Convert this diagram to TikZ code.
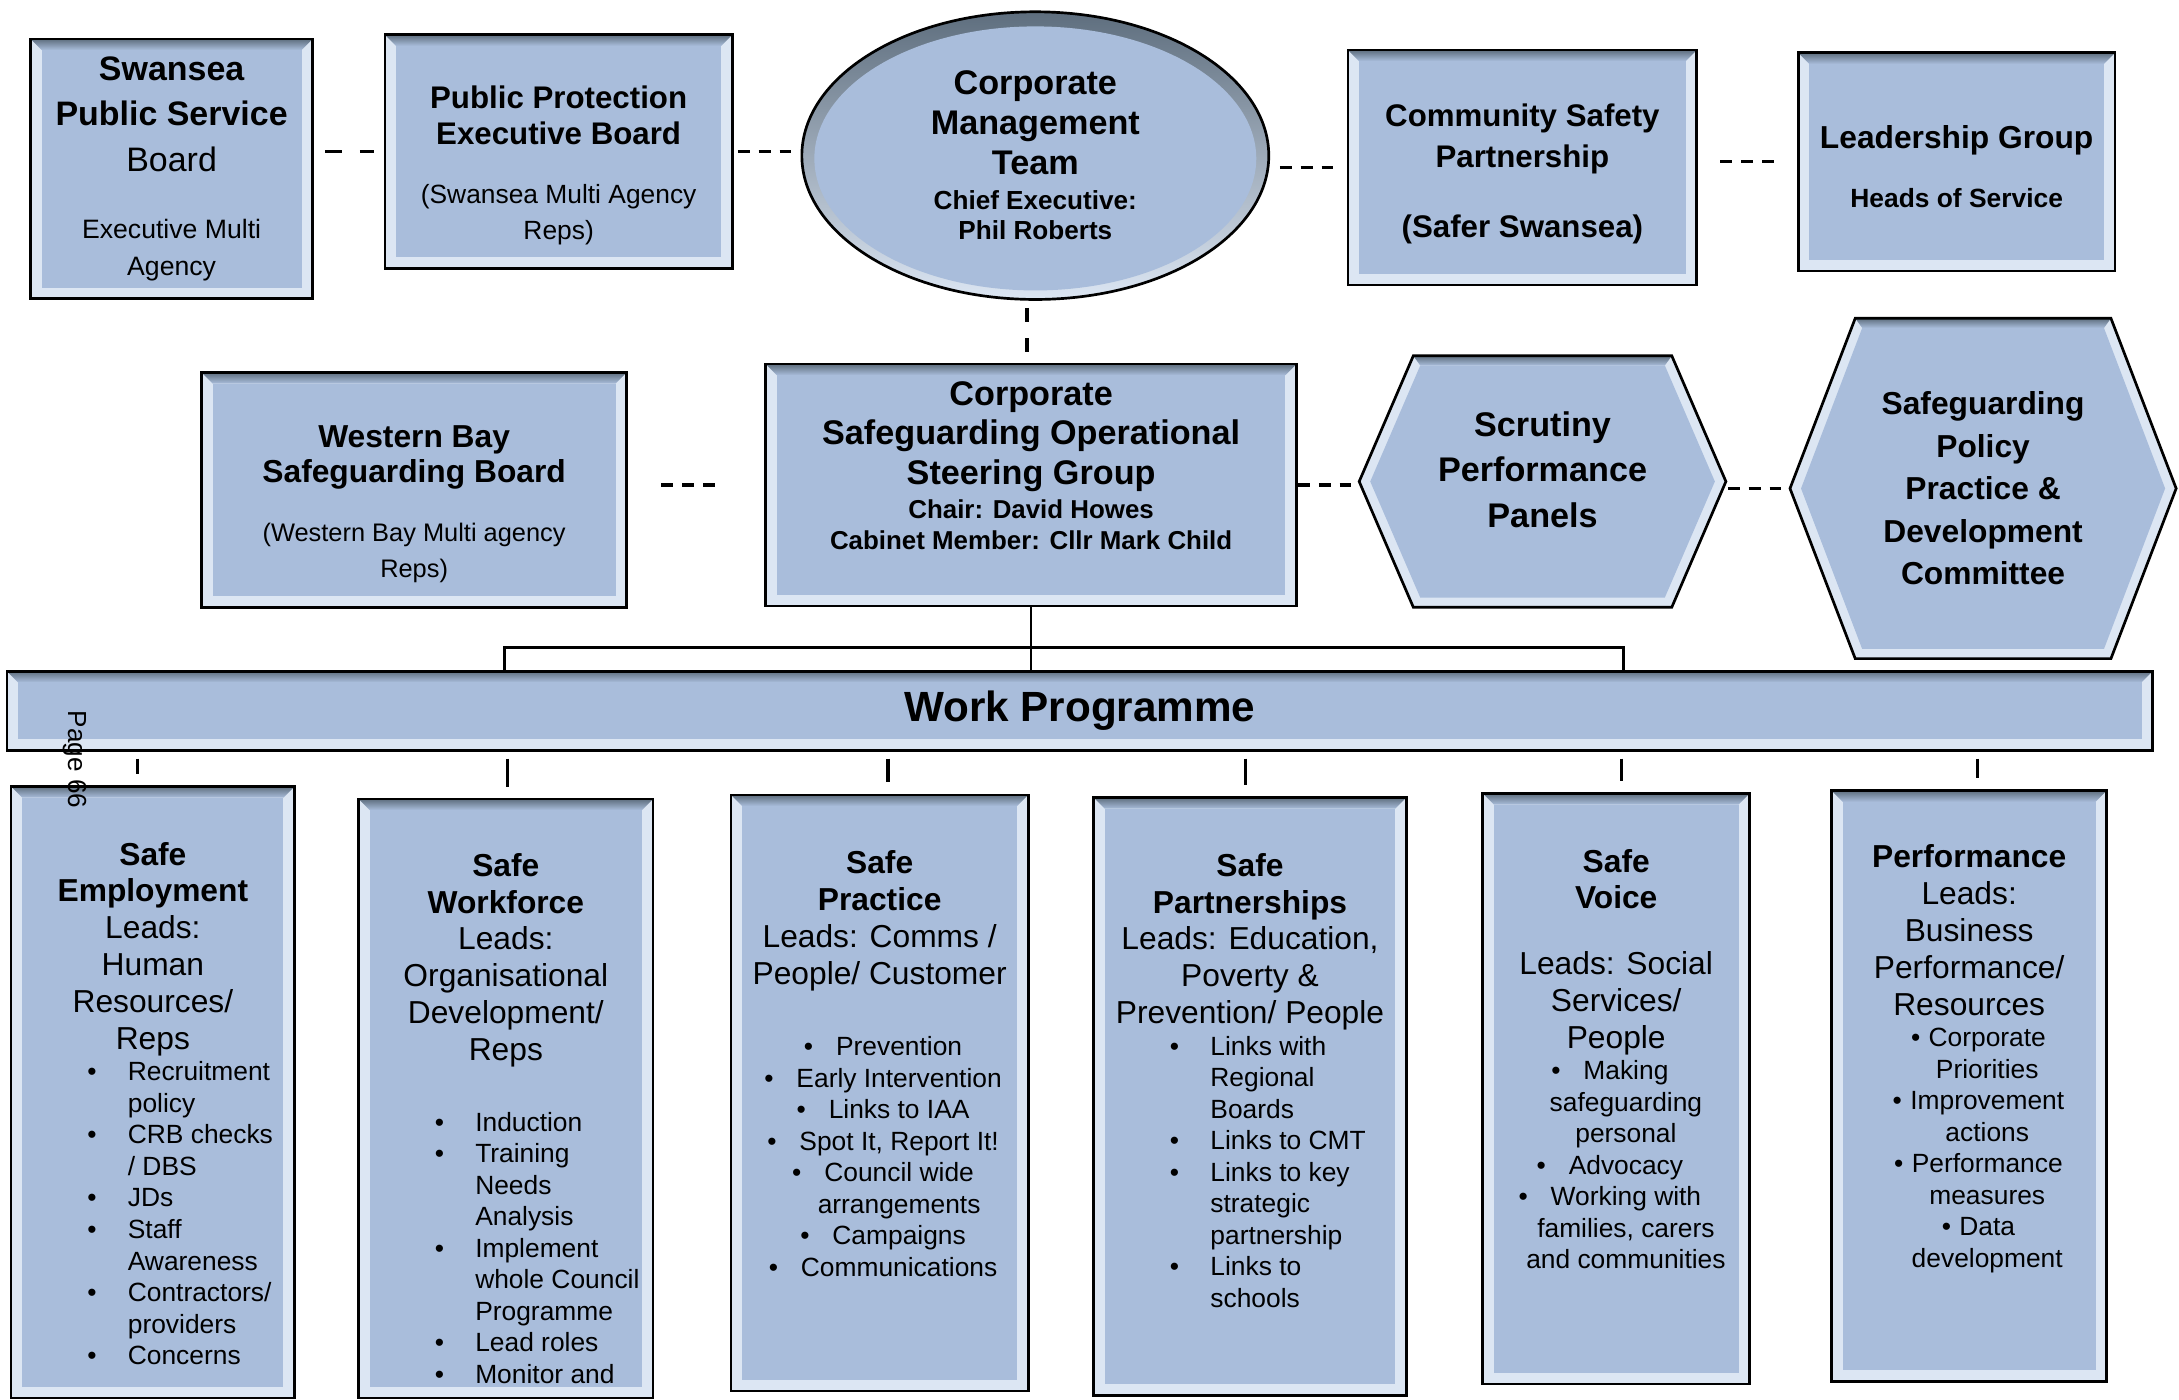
\documentclass[tikz,border=0pt]{standalone}
\usepackage{fontspec}
\setmainfont{Liberation Sans}
\usepackage{enumitem}
\usetikzlibrary{shapes.geometric}

\definecolor{boxfill}{HTML}{A9BDDB}
\definecolor{bevlight}{HTML}{DCE6F3}
\definecolor{bevdark}{HTML}{5E6E7E}

\newcommand{\bevw}{0.16cm}
\newcommand{\wphead}{\fontsize{13}{15.1}\selectfont}
\newcommand{\wpsmall}{\fontsize{10.8}{12.9}\selectfont}
\newcommand{\wpbullet}[1][0.33cm]{\leavevmode\llap{\textbullet\hspace{#1}}}
\setlist[itemize]{nosep, leftmargin=1.68cm, labelsep=0.45cm, label=\textbullet, before=\raggedright}

\begin{document}
\begin{tikzpicture}[
    bevel/.style={draw=black, line width=1.1pt, fill=bevlight, inner sep=0pt,
      path picture={
        \path (path picture bounding box.south west) coordinate (bSW)
              (path picture bounding box.north west) coordinate (bNW)
              (path picture bounding box.north east) coordinate (bNE);
        \shade[top color=bevdark, bottom color=boxfill]
          (bNW) -- (bNE) -- ([shift={(-\bevw,-\bevw)}]bNE) -- ([shift={(\bevw,-\bevw)}]bNW) -- cycle;
        \fill[boxfill] ([shift={(\bevw,\bevw)}]bSW) rectangle ([shift={(-\bevw,-\bevw)}]bNE);
      }},
    hexa/.style={fill=white, inner sep=0pt,
      path picture={
        \path (path picture bounding box.west) coordinate (hW)
              (path picture bounding box.east) coordinate (hE)
              (path picture bounding box.north west) coordinate (hNW)
              (path picture bounding box.north east) coordinate (hNE)
              (path picture bounding box.south west) coordinate (hSW)
              (path picture bounding box.south east) coordinate (hSE);
        \fill[bevlight] ([xshift=0.6pt]hW) -- ([shift={(#1,-0.6pt)}]hNW) -- ([shift={(-#1,-0.6pt)}]hNE)
          -- ([xshift=-0.6pt]hE) -- ([shift={(-#1,0.6pt)}]hSE) -- ([shift={(#1,0.6pt)}]hSW) -- cycle;
        \shade[top color=bevdark, bottom color=boxfill] ([shift={(#1,-0.6pt)}]hNW) -- ([shift={(-#1,-0.6pt)}]hNE)
          -- ([shift={(-#1-0.1cm,-\bevw)}]hNE) -- ([shift={(#1+0.1cm,-\bevw)}]hNW) -- cycle;
        \fill[boxfill] ([xshift=0.18cm]hW) -- ([shift={(#1+0.1cm,-\bevw)}]hNW) -- ([shift={(-#1-0.1cm,-\bevw)}]hNE)
          -- ([xshift=-0.18cm]hE) -- ([shift={(-#1-0.1cm,\bevw)}]hSE) -- ([shift={(#1+0.1cm,\bevw)}]hSW) -- cycle;
        \draw[line width=1.1pt] ([xshift=0.6pt]hW) -- ([shift={(#1,-0.6pt)}]hNW) -- ([shift={(-#1,-0.6pt)}]hNE)
          -- ([xshift=-0.6pt]hE) -- ([shift={(-#1,0.6pt)}]hSE) -- ([shift={(#1,0.6pt)}]hSW) -- cycle;
      }},
    oval/.style={ellipse, draw=black, line width=1.1pt, fill=bevlight, inner sep=0pt,
      path picture={
        \shade[top color=bevdark, bottom color=bevlight]
          (path picture bounding box.south west) rectangle (path picture bounding box.north east);
        \fill[boxfill] ([yshift=-0.04cm]path picture bounding box.center) ellipse [x radius=3.18cm, y radius=1.9cm];
      }},
    link/.style={line width=1.3pt, dash pattern=on 0.17cm off 0.13cm},
    wire/.style={line width=1.1pt},
    stub/.style={line width=1.3pt, shorten <=0.1cm, shorten >=0.16cm}
]
\useasboundingbox (0,0) rectangle (31.36, 20.14);

% Top row
\node[bevel, minimum width=4.06cm, minimum height=3.74cm] (psb) at (2.47, 17.71) {\parbox{3.9cm}{\centering
    \fontsize{13.9}{18.7}\selectfont\bfseries Swansea\\ Public Service\\ \mdseries Board\par
    \vspace{0.42cm}\fontsize{10.9}{15.3}\selectfont Executive Multi\\ Agency}};

\node[bevel, minimum width=5cm, minimum height=3.36cm] (ppeb) at (8.04, 17.96) {\parbox{4.8cm}{\centering
    \vspace*{0.4cm}
    \fontsize{12.8}{14.7}\selectfont\bfseries Public Protection\\ Executive Board\par
    \vspace{0.34cm}\fontsize{10.8}{14.7}\selectfont\mdseries (Swansea Multi Agency\\ Reps)}};

\node[oval, minimum width=6.72cm, minimum height=4.14cm] (cmt) at (14.9, 17.9) {\parbox{3.6cm}{\centering
    \fontsize{14}{16.2}\selectfont\bfseries Corporate\\ Management\\ Team\par
    \vspace{2pt}\fontsize{10.7}{12.5}\selectfont Chief Executive:\\ Phil Roberts}};

\node[bevel, minimum width=5.02cm, minimum height=3.38cm] (csp) at (21.91, 17.73) {\parbox{4.8cm}{\centering
    \vspace*{0.18cm}
    \fontsize{12.8}{17}\selectfont\bfseries Community Safety\\ Partnership\par
    \vspace{0.4cm}(Safer Swansea)}};

\node[bevel, minimum width=4.56cm, minimum height=3.14cm] (lg) at (28.16, 17.81) {\parbox{4.4cm}{\centering
    \vspace*{0.14cm}
    \fontsize{13}{15.3}\selectfont\bfseries Leadership Group\par
    \vspace{0.32cm}\fontsize{10.8}{15.3}\selectfont Heads of Service}};

% Middle row
\node[bevel, minimum width=6.12cm, minimum height=3.38cm] (wbsb) at (5.96, 13.09) {\parbox{5.9cm}{\centering
    \vspace*{0.4cm}
    \fontsize{13}{14.7}\selectfont\bfseries Western Bay\\ Safeguarding Board\par
    \vspace{0.32cm}\fontsize{10.4}{14.7}\selectfont\mdseries (Western Bay Multi agency\\ Reps)}};

\node[bevel, minimum width=7.64cm, minimum height=3.48cm] (csosg) at (14.84, 13.16) {\parbox{7.4cm}{\centering
    \fontsize{14}{16.2}\selectfont\bfseries Corporate\\ Safeguarding Operational\\ Steering Group\par
    \vspace{1.7pt}\fontsize{10.6}{12.5}\selectfont Chair: David Howes\\ Cabinet Member: Cllr Mark Child\par
    \vspace*{0.56cm}}};

\node[hexa=0.8cm, minimum width=5.32cm, minimum height=3.66cm] (spp) at (22.2, 13.21) {\parbox{4cm}{\centering
    \fontsize{14}{18.7}\selectfont\bfseries Scrutiny\\ Performance\\ Panels\par
    \vspace*{0.34cm}}};

\node[hexa=0.96cm, minimum width=5.6cm, minimum height=4.94cm] (sppdc) at (28.54, 13.11) {\parbox{4cm}{\centering
    \fontsize{13}{17.4}\selectfont\bfseries Safeguarding\\ Policy\\ Practice \&\\ Development\\ Committee}};

% Work programme bar
\node[bevel, minimum width=30.88cm, minimum height=1.14cm, font=\fontsize{17.3}{20}\selectfont\bfseries] (wp) at (15.54, 9.91) {Work Programme};

% Work streams
\node[bevel, anchor=north] (se) at (2.2, 8.84) {\parbox[c][8.8cm][t]{4.08cm}{\vspace*{0.8cm}
    {\centering\wphead\textbf{Safe}\\ \textbf{Employment}\\ Leads:\\ Human\\ Resources/\\ Reps\par}
    \wpsmall
    \begin{itemize}
      \item Recruitment\\ policy
      \item CRB checks\\ / DBS
      \item JDs
      \item Staff\\ Awareness
      \item Contractors/\\ providers
      \item Concerns
    \end{itemize}}};

\node[bevel, anchor=north] (sw) at (7.28, 8.66) {\parbox[c][8.62cm][t]{4.24cm}{\vspace*{0.78cm}
    {\centering\wphead\textbf{Safe}\\ \textbf{Workforce}\\ Leads:\\ Organisational\\ Development/\\ Reps\par}
    \vspace{0.56cm}\wpsmall
    \begin{itemize}
      \item Induction
      \item Training\\ Needs\\ Analysis
      \item Implement\\ whole Council\\ Programme
      \item Lead roles
      \item Monitor and
    \end{itemize}}};

\node[bevel, anchor=north] (sprac) at (12.66, 8.72) {\parbox[c][8.58cm][t]{4.28cm}{\vspace*{0.8cm}
    {\centering\wphead\textbf{Safe}\\ \textbf{Practice}\\ Leads: Comms /\\ People/ Customer\par}
    \vspace{0.58cm}
    {\centering\leftskip=0.56cm plus 1fil\wpsmall
     \wpbullet Prevention\\ \wpbullet Early Intervention\\ \wpbullet Links to IAA\\
     \wpbullet Spot It, Report It!\\ \wpbullet Council wide\\ arrangements\\
     \wpbullet Campaigns\\ \wpbullet Communications\par}}};

\node[bevel, anchor=north] (spart) at (17.99, 8.68) {\parbox[c][8.6cm][t]{4.5cm}{\vspace*{0.8cm}
    {\centering\wphead\textbf{Safe}\\ \textbf{Partnerships}\\ Leads: Education,\\ Poverty \&\\ Prevention/ People\par}
    \wpsmall
    \begin{itemize}
      \item Links with\\ Regional\\ Boards
      \item Links to CMT
      \item Links to key\\ strategic\\ partnership
      \item Links to\\ schools
    \end{itemize}}};

\node[bevel, anchor=north] (sv) at (23.26, 8.74) {\parbox[c][8.5cm][t]{3.84cm}{\vspace*{0.8cm}
    {\centering\wphead\textbf{Safe}\\ \textbf{Voice}\par}
    \vspace{0.41cm}
    {\centering\wphead Leads: Social\\ Services/\\ People\par}
    {\centering\leftskip=0.28cm plus 1fil\wpsmall
     \wpbullet Making\\ safeguarding\\ personal\\ \wpbullet Advocacy\\
     \wpbullet Working with\\ families, carers\\ and communities\par}}};

\node[bevel, anchor=north] (perf) at (28.34, 8.78) {\parbox[c][8.5cm][t]{3.96cm}{\vspace*{0.78cm}
    {\centering\wphead\textbf{Performance}\\ Leads:\\ Business\\ Performance/\\ Resources\par}
    {\centering\leftskip=0.52cm plus 1fil\wpsmall
     \wpbullet[0.12cm]Corporate\\ Priorities\\ \wpbullet[0.12cm]Improvement\\ actions\\
     \wpbullet[0.12cm]Performance\\ measures\\ \wpbullet[0.12cm]Data\\ development\par}}};

% Dashed links
\draw[link, dash pattern=on 0.24cm off 0.26cm, shorten <=0.16cm, shorten >=0.14cm] (psb.east |- ppeb.west) -- (ppeb.west);
\draw[link, shorten <=0.06cm, shorten >=0.14cm] (ppeb.east) -- (ppeb.east -| cmt.west);
\draw[link, shorten <=0.14cm, shorten >=0.14cm] (cmt.east |- csp.west) -- (csp.west);
\draw[link, shorten <=0.32cm, shorten >=0.28cm] (csp.east |- lg.west) -- (lg.west);
\coordinate (cmtdown) at ([xshift=-0.12cm]cmt.south);
\draw[link, dash pattern=on 0.2cm off 0.24cm, shorten <=0.1cm, shorten >=0.08cm] (cmtdown) -- (cmtdown |- csosg.north);
\draw[link, shorten <=0.48cm, shorten >=0.62cm] (wbsb.east |- csosg.west) -- (csosg.west);
\draw[link] (csosg.east) -- (csosg.east -| spp.west);
\draw[link] (spp.east |- sppdc.west) -- (sppdc.west);

% Solid links to the work programme
\coordinate (brL) at (7.26, 10.82);
\coordinate (brR) at (23.36, 10.82);
\draw[wire] (csosg.south) -- (csosg.south |- wp.north);
\draw[wire] (brL |- wp.north) -- (brL) -- (brR) -- (brR |- wp.north);
\foreach \b/\dx in {se/-0.22, sw/0.02, sprac/0.12, spart/-0.07, sv/0.08, perf/0.12} {
    \coordinate (tk) at ([xshift=\dx cm]\b.north);
    \draw[stub] (tk |- wp.south) -- (tk);
}

% Page number
\node[rotate=-90, font=\fontsize{10.7}{12}\selectfont] (pg) at (1.08, 9.21) {Page 66};

\end{tikzpicture}
\end{document}
